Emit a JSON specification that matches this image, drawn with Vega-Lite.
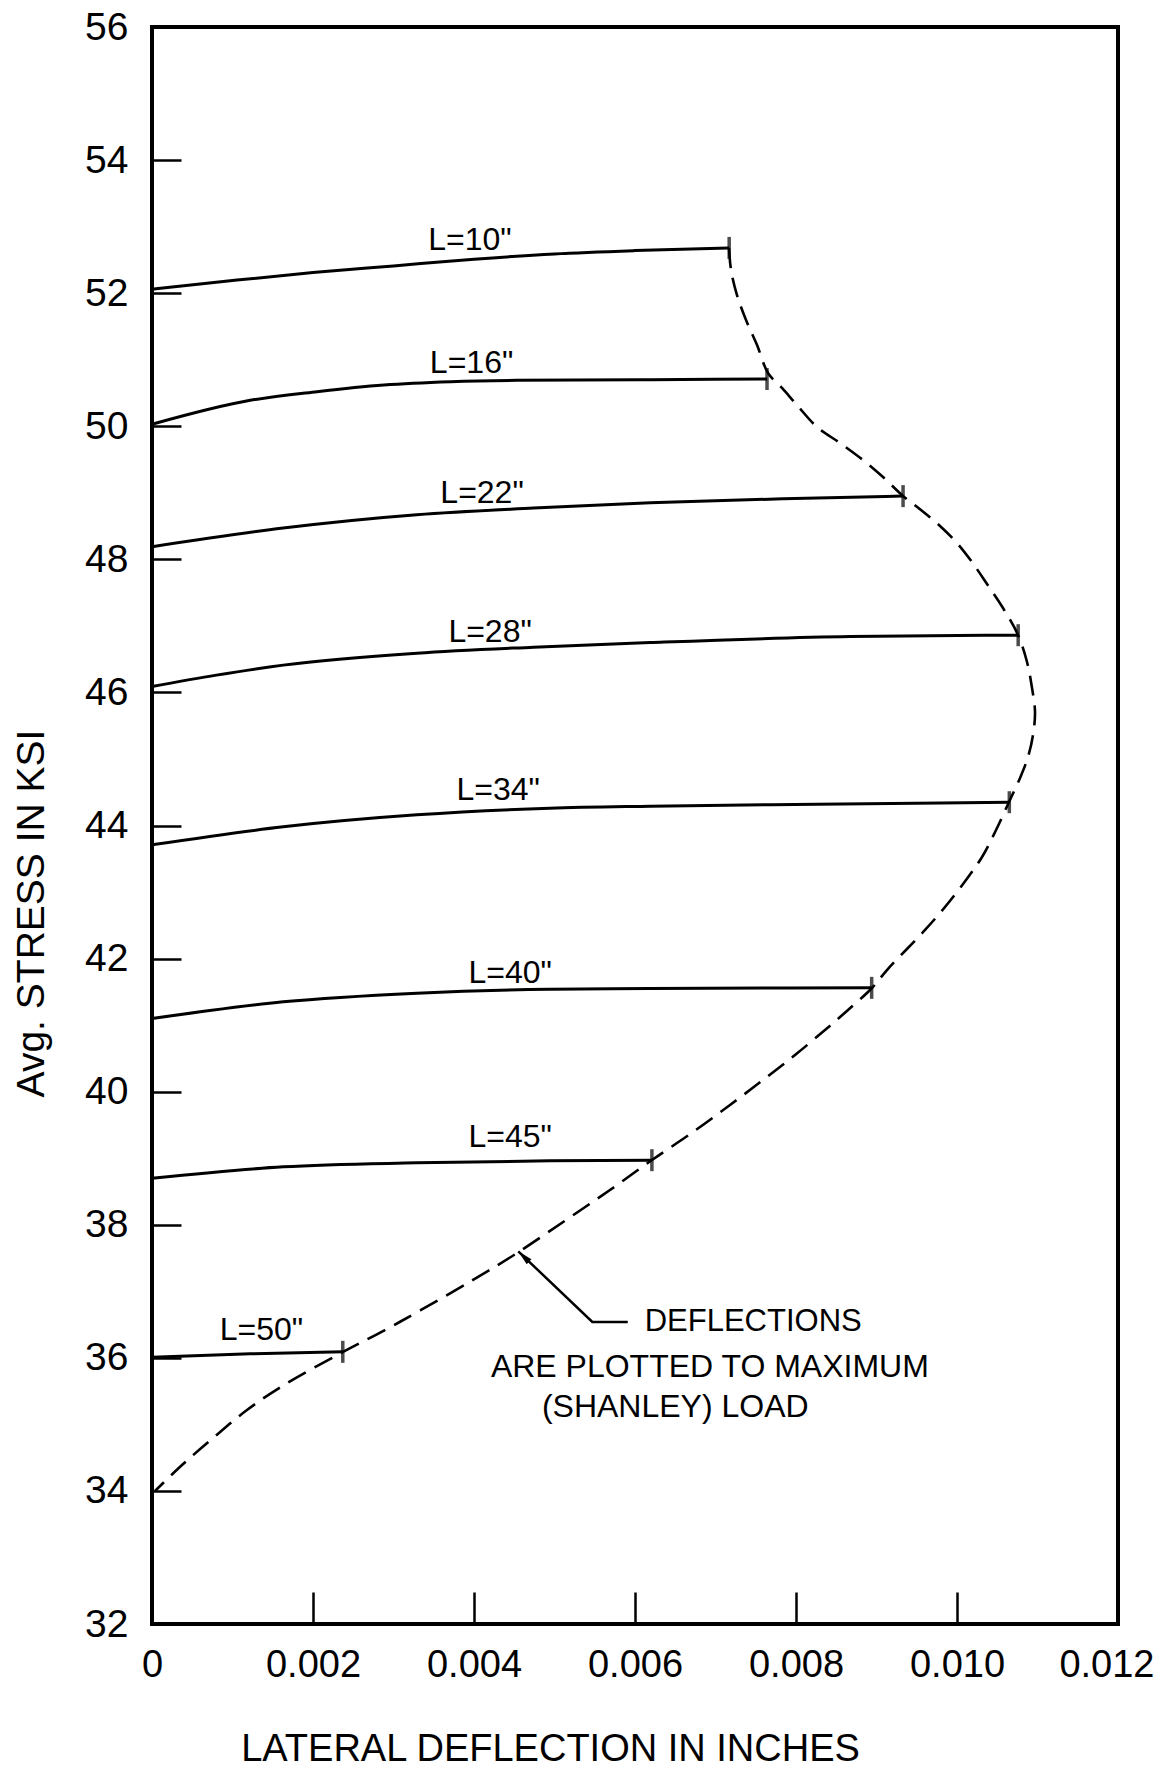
{
  "$schema": "https://vega.github.io/schema/vega-lite/v6.json",
  "width": 966,
  "height": 1597,
  "autosize": {"type": "none"},
  "padding": {"left": 152, "top": 27, "right": 42, "bottom": 147},
  "background": "white",
  "config": {
    "view": {"stroke": "black", "strokeWidth": 4},
    "font": "Liberation Sans"
  },
  "datasets": {
    "curves": [
      {"L": "10", "d": 0, "s": 52.06}, {"L": "10", "d": 0.001, "s": 52.19}, {"L": "10", "d": 0.002, "s": 52.31}, {"L": "10", "d": 0.003, "s": 52.41}, {"L": "10", "d": 0.004, "s": 52.51}, {"L": "10", "d": 0.005, "s": 52.59}, {"L": "10", "d": 0.006, "s": 52.64}, {"L": "10", "d": 0.00717, "s": 52.68},
      {"L": "16", "d": 0, "s": 50.03}, {"L": "16", "d": 0.00122, "s": 50.39}, {"L": "16", "d": 0.00205, "s": 50.52}, {"L": "16", "d": 0.00288, "s": 50.62}, {"L": "16", "d": 0.00371, "s": 50.67}, {"L": "16", "d": 0.00453, "s": 50.69}, {"L": "16", "d": 0.00619, "s": 50.7}, {"L": "16", "d": 0.00764, "s": 50.71},
      {"L": "22", "d": 0, "s": 48.19}, {"L": "22", "d": 0.00163, "s": 48.47}, {"L": "22", "d": 0.00329, "s": 48.67}, {"L": "22", "d": 0.00474, "s": 48.77}, {"L": "22", "d": 0.00619, "s": 48.85}, {"L": "22", "d": 0.00784, "s": 48.91}, {"L": "22", "d": 0.00933, "s": 48.95},
      {"L": "28", "d": 0, "s": 46.09}, {"L": "28", "d": 0.0008, "s": 46.26}, {"L": "28", "d": 0.00163, "s": 46.41}, {"L": "28", "d": 0.00329, "s": 46.59}, {"L": "28", "d": 0.00474, "s": 46.68}, {"L": "28", "d": 0.00619, "s": 46.75}, {"L": "28", "d": 0.00867, "s": 46.84}, {"L": "28", "d": 0.01076, "s": 46.86},
      {"L": "34", "d": 0, "s": 43.71}, {"L": "34", "d": 0.00163, "s": 43.98}, {"L": "34", "d": 0.00329, "s": 44.16}, {"L": "34", "d": 0.00494, "s": 44.26}, {"L": "34", "d": 0.00619, "s": 44.29}, {"L": "34", "d": 0.00826, "s": 44.32}, {"L": "34", "d": 0.01065, "s": 44.35},
      {"L": "40", "d": 0, "s": 41.1}, {"L": "40", "d": 0.00163, "s": 41.35}, {"L": "40", "d": 0.00329, "s": 41.48}, {"L": "40", "d": 0.00494, "s": 41.54}, {"L": "40", "d": 0.00619, "s": 41.55}, {"L": "40", "d": 0.00894, "s": 41.56},
      {"L": "45", "d": 0, "s": 38.7}, {"L": "45", "d": 0.00163, "s": 38.87}, {"L": "45", "d": 0.00329, "s": 38.93}, {"L": "45", "d": 0.00494, "s": 38.96}, {"L": "45", "d": 0.00621, "s": 38.97},
      {"L": "50", "d": 0, "s": 36.01}, {"L": "50", "d": 0.00122, "s": 36.06}, {"L": "50", "d": 0.00237, "s": 36.09}
    ],
    "ends": [
      {"L": "10", "d": 0.00717, "s": 52.68}, {"L": "16", "d": 0.00764, "s": 50.71}, {"L": "22", "d": 0.00933, "s": 48.95}, {"L": "28", "d": 0.01076, "s": 46.86},
      {"L": "34", "d": 0.01065, "s": 44.35}, {"L": "40", "d": 0.00894, "s": 41.56}, {"L": "45", "d": 0.00621, "s": 38.97}, {"L": "50", "d": 0.00237, "s": 36.09}
    ],
    "envelope": [
      {"i": 1, "d": 0.007168, "s": 52.679}, {"i": 2, "d": 0.007193, "s": 52.348}, {"i": 3, "d": 0.007267, "s": 51.972}, {"i": 4, "d": 0.007379, "s": 51.597},
      {"i": 5, "d": 0.007516, "s": 51.221}, {"i": 6, "d": 0.007652, "s": 50.8}, {"i": 7, "d": 0.007826, "s": 50.575}, {"i": 8, "d": 0.008012, "s": 50.319},
      {"i": 9, "d": 0.008261, "s": 49.989}, {"i": 10, "d": 0.008547, "s": 49.748}, {"i": 11, "d": 0.008832, "s": 49.493}, {"i": 12, "d": 0.009081, "s": 49.237},
      {"i": 13, "d": 0.009329, "s": 48.952}, {"i": 14, "d": 0.009553, "s": 48.741}, {"i": 15, "d": 0.009789, "s": 48.501}, {"i": 16, "d": 0.01, "s": 48.245},
      {"i": 17, "d": 0.010186, "s": 47.96}, {"i": 18, "d": 0.010373, "s": 47.629}, {"i": 19, "d": 0.010571, "s": 47.269}, {"i": 20, "d": 0.010758, "s": 46.863},
      {"i": 21, "d": 0.01087, "s": 46.457}, {"i": 22, "d": 0.010932, "s": 46.066}, {"i": 23, "d": 0.010969, "s": 45.706}, {"i": 24, "d": 0.010944, "s": 45.36},
      {"i": 25, "d": 0.010882, "s": 45.029}, {"i": 26, "d": 0.010783, "s": 44.714}, {"i": 27, "d": 0.010646, "s": 44.353}, {"i": 28, "d": 0.010485, "s": 43.932},
      {"i": 29, "d": 0.010311, "s": 43.527}, {"i": 30, "d": 0.010112, "s": 43.181}, {"i": 31, "d": 0.009851, "s": 42.775}, {"i": 32, "d": 0.009603, "s": 42.43},
      {"i": 33, "d": 0.009366, "s": 42.129}, {"i": 34, "d": 0.00913, "s": 41.828}, {"i": 35, "d": 0.008944, "s": 41.558}, {"i": 36, "d": 0.008646, "s": 41.227},
      {"i": 37, "d": 0.00836, "s": 40.927}, {"i": 38, "d": 0.007988, "s": 40.551}, {"i": 39, "d": 0.00759, "s": 40.175}, {"i": 40, "d": 0.00718, "s": 39.8},
      {"i": 41, "d": 0.006721, "s": 39.394}, {"i": 42, "d": 0.006211, "s": 38.973}, {"i": 43, "d": 0.005689, "s": 38.522}, {"i": 44, "d": 0.005143, "s": 38.071},
      {"i": 45, "d": 0.004534, "s": 37.575}, {"i": 46, "d": 0.003988, "s": 37.17}, {"i": 47, "d": 0.003342, "s": 36.719}, {"i": 48, "d": 0.002894, "s": 36.418},
      {"i": 49, "d": 0.002373, "s": 36.088}, {"i": 50, "d": 0.00164, "s": 35.592}, {"i": 51, "d": 0.00118, "s": 35.216}, {"i": 52, "d": 0.000758, "s": 34.795},
      {"i": 53, "d": 0.000373, "s": 34.389}, {"i": 54, "d": 0.000037, "s": 33.999}
    ],
    "labels": [
      {"t": "L=10\"", "d": 0.00395, "s": 52.8}, {"t": "L=16\"", "d": 0.00397, "s": 50.95}, {"t": "L=22\"", "d": 0.0041, "s": 48.99}, {"t": "L=28\"", "d": 0.0042, "s": 46.91},
      {"t": "L=34\"", "d": 0.0043, "s": 44.53}, {"t": "L=40\"", "d": 0.00445, "s": 41.78}, {"t": "L=45\"", "d": 0.00445, "s": 39.32}, {"t": "L=50\"", "d": 0.00136, "s": 36.42}
    ],
    "arrow": [
      {"p": 1, "d": 0.00455, "s": 37.6}, {"p": 2, "d": 0.00547, "s": 36.54}, {"p": 3, "d": 0.00591, "s": 36.54}
    ],
    "arrowhead": [{"d": 0.00455, "s": 37.6}],
    "noteLeft": [{"t": "DEFLECTIONS", "d": 0.00612, "s": 36.54}],
    "noteCenter": [
      {"t": "ARE PLOTTED TO MAXIMUM", "d": 0.00693, "s": 35.86},
      {"t": "(SHANLEY) LOAD", "d": 0.0065, "s": 35.26}
    ]
  },
  "layer": [
    {
      "data": {"name": "curves"},
      "mark": {"type": "line", "interpolate": "monotone", "color": "black", "strokeWidth": 3},
      "encoding": {
        "x": {
          "field": "d", "type": "quantitative",
          "scale": {"domain": [0, 0.012], "nice": false, "zero": false},
          "axis": {
            "title": "LATERAL DEFLECTION IN INCHES",
            "values": [0, 0.002, 0.004, 0.006, 0.008, 0.01, 0.012],
            "labelExpr": "datum.value == 0 ? '0' : format(datum.value, '.3f')",
            "grid": false, "domain": false,
            "tickSize": -32, "tickWidth": 2.5, "tickColor": "black",
            "labelFontSize": 38, "labelColor": "black", "labelPadding": 54,
            "labelAlign": {"condition": {"test": "datum.value >= 0.0119", "value": "right"}, "value": "center"},
            "labelOffset": {"condition": {"test": "datum.value >= 0.0119", "value": 36}, "value": 0},
            "labelFlush": false, "labelOverlap": false,
            "titleFontSize": 38, "titleFontWeight": "normal", "titleColor": "black",
            "titleX": 398, "titleY": 136, "titleBaseline": "alphabetic", "titleAlign": "center"
          }
        },
        "y": {
          "field": "s", "type": "quantitative",
          "scale": {"domain": [32, 56], "nice": false, "zero": false},
          "axis": {
            "title": "Avg. STRESS IN KSI",
            "values": [32, 34, 36, 38, 40, 42, 44, 46, 48, 50, 52, 54, 56],
            "format": "d",
            "grid": false, "domain": false,
            "tickSize": -29, "tickWidth": 2.5, "tickColor": "black",
            "labelFontSize": 39, "labelColor": "black", "labelPadding": 53,
            "labelFlush": false, "labelOverlap": false,
            "titleFontSize": 39, "titleFontWeight": "normal", "titleColor": "black",
            "titleX": -109, "titleY": 886, "titleAngle": 270, "titleBaseline": "alphabetic", "titleAlign": "center"
          }
        },
        "detail": {"field": "L"}
      }
    },
    {
      "data": {"name": "envelope"},
      "mark": {"type": "line", "interpolate": "catmull-rom", "color": "black", "strokeWidth": 2.6, "strokeDash": [20, 10]},
      "encoding": {
        "x": {"field": "d", "type": "quantitative"},
        "y": {"field": "s", "type": "quantitative"},
        "order": {"field": "i", "type": "quantitative"}
      }
    },
    {
      "data": {"name": "ends"},
      "mark": {"type": "tick", "orient": "vertical", "color": "black", "size": 22, "thickness": 3.5},
      "encoding": {
        "x": {"field": "d", "type": "quantitative"},
        "y": {"field": "s", "type": "quantitative"}
      }
    },
    {
      "data": {"name": "labels"},
      "mark": {"type": "text", "fontSize": 32, "color": "black", "align": "center", "baseline": "middle"},
      "encoding": {
        "x": {"field": "d", "type": "quantitative"},
        "y": {"field": "s", "type": "quantitative"},
        "text": {"field": "t"}
      }
    },
    {
      "data": {"name": "arrow"},
      "mark": {"type": "line", "interpolate": "linear", "color": "black", "strokeWidth": 2.5},
      "encoding": {
        "x": {"field": "d", "type": "quantitative"},
        "y": {"field": "s", "type": "quantitative"},
        "order": {"field": "p", "type": "quantitative"}
      }
    },
    {
      "data": {"name": "arrowhead"},
      "mark": {"type": "point", "shape": "M0,0L0.45,2L-0.45,2Z", "filled": true, "color": "black", "size": 225, "angle": 314, "opacity": 1},
      "encoding": {
        "x": {"field": "d", "type": "quantitative"},
        "y": {"field": "s", "type": "quantitative"}
      }
    },
    {
      "data": {"name": "noteLeft"},
      "mark": {"type": "text", "fontSize": 31, "color": "black", "align": "left", "baseline": "middle"},
      "encoding": {
        "x": {"field": "d", "type": "quantitative"},
        "y": {"field": "s", "type": "quantitative"},
        "text": {"field": "t"}
      }
    },
    {
      "data": {"name": "noteCenter"},
      "mark": {"type": "text", "fontSize": 32, "color": "black", "align": "center", "baseline": "middle"},
      "encoding": {
        "x": {"field": "d", "type": "quantitative"},
        "y": {"field": "s", "type": "quantitative"},
        "text": {"field": "t"}
      }
    }
  ]
}
